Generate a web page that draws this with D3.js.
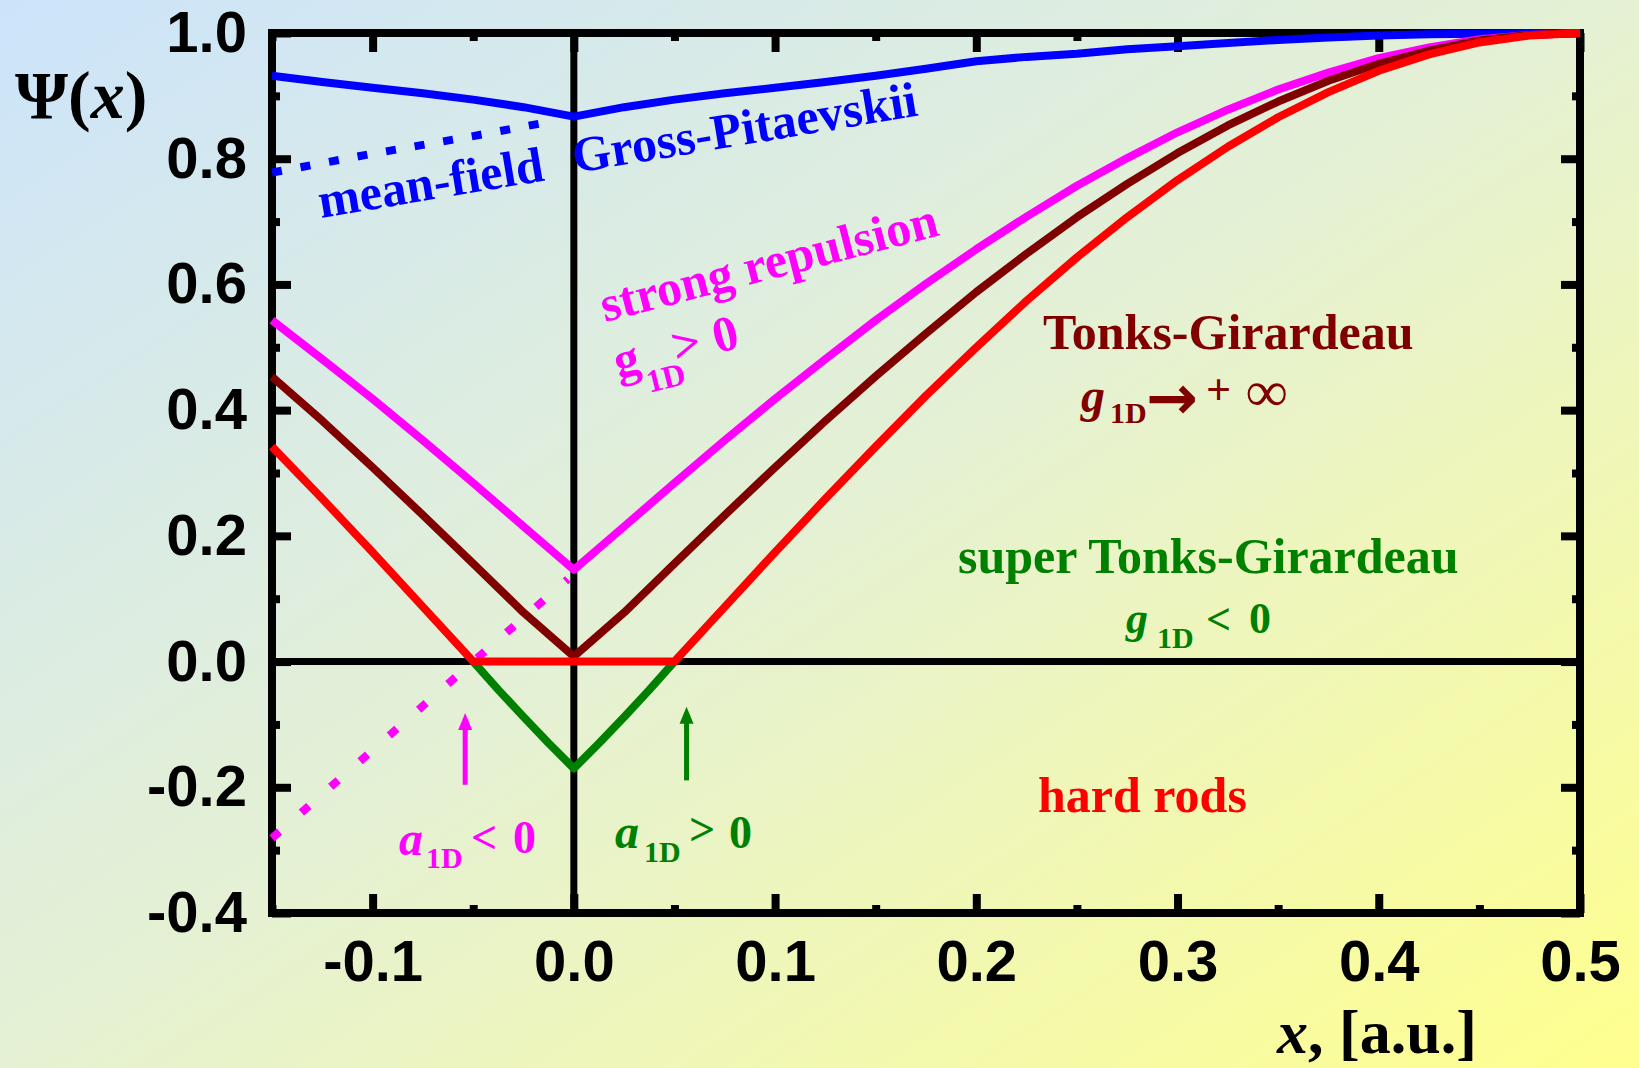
<!DOCTYPE html>
<html>
<head>
<meta charset="utf-8">
<script src="https://cdn.jsdelivr.net/npm/d3@7"></script>
<style>
  body { margin: 0; }
  svg { display: block; }
</style>
</head>
<body>
<svg id="chart"></svg>
<script>
let width = 1639;
let height = 1068;

// x grid shared by the smooth curves
let xs = [-0.15, -0.125, -0.1, -0.075, -0.05, -0.025, 0, 0.025, 0.05, 0.075, 0.1, 0.125, 0.15,
  0.175, 0.2, 0.225, 0.25, 0.275, 0.3, 0.325, 0.35, 0.375, 0.4, 0.425, 0.45, 0.475, 0.5];

let grossPitaevskii = [0.932, 0.922, 0.913, 0.904, 0.894, 0.882, 0.867, 0.882, 0.894, 0.904, 0.913, 0.922, 0.932,
  0.943, 0.955, 0.962, 0.967, 0.974, 0.979, 0.984, 0.989, 0.993, 0.996, 0.998, 0.999, 1.0, 1.0];

let strongRepulsion = [0.543, 0.481, 0.418, 0.352, 0.284, 0.215, 0.146, 0.215, 0.284, 0.352, 0.418, 0.481, 0.543,
  0.601, 0.656, 0.708, 0.757, 0.801, 0.842, 0.878, 0.910, 0.937, 0.960, 0.977, 0.990, 0.997, 1.0];

let tonksGirardeau = [0.453, 0.383, 0.309, 0.233, 0.156, 0.078, 0.008, 0.078, 0.156, 0.233, 0.309, 0.383, 0.454,
  0.522, 0.588, 0.649, 0.707, 0.760, 0.809, 0.853, 0.891, 0.924, 0.951, 0.972, 0.988, 0.997, 1.0];

let hardRodX = [-0.15, -0.125, -0.1, -0.075, -0.05, 0.05, 0.075, 0.1, 0.125, 0.15, 0.175, 0.2, 0.225,
  0.25, 0.275, 0.3, 0.325, 0.35, 0.375, 0.4, 0.425, 0.45, 0.475, 0.5];
let hardRods = [0.342, 0.259, 0.174, 0.087, 0, 0, 0.087, 0.174, 0.259, 0.342, 0.423, 0.5, 0.574,
  0.643, 0.707, 0.766, 0.819, 0.866, 0.906, 0.940, 0.966, 0.985, 0.996, 1.0];

let superX = [-0.05, -0.0375, -0.025, -0.0125, 0, 0.0125, 0.025, 0.0375, 0.05];
let superTonks = [0, -0.045, -0.088, -0.13, -0.17, -0.13, -0.088, -0.045, 0];

let meanFieldX = [-0.15, -0.125, -0.1, -0.075, -0.05, -0.03, -0.015];
let meanField = [0.778, 0.793, 0.808, 0.822, 0.836, 0.848, 0.857];

let attractionX = [-0.15, -0.1, -0.05, -0.003];
let attraction = [-0.281, -0.141, 0.0, 0.131];

let xTicks = [-0.1, 0, 0.1, 0.2, 0.3, 0.4, 0.5];
let xTickLabels = ['-0.1', '0.0', '0.1', '0.2', '0.3', '0.4', '0.5'];
let xMinor = [-0.15, -0.05, 0.05, 0.15, 0.25, 0.35, 0.45];
let yTicks = [-0.4, -0.2, 0, 0.2, 0.4, 0.6, 0.8, 1.0];
let yTickLabels = ['-0.4', '-0.2', '0.0', '0.2', '0.4', '0.6', '0.8', '1.0'];
let yMinor = [-0.3, -0.1, 0.1, 0.3, 0.5, 0.7, 0.9];

let plot = { left: 272, right: 1580, top: 33, bottom: 913 };

let x = d3.scaleLinear().domain([-0.15, 0.5]).range([plot.left, plot.right]);
let y = d3.scaleLinear().domain([-0.4, 1.0]).range([plot.bottom, plot.top]);

let svg = d3.select('#chart')
  .attr('width', width)
  .attr('height', height)
  .attr('viewBox', [0, 0, width, height]);

// background gradient, blue top-left to yellow bottom-right
let grad = svg.append('defs').append('linearGradient')
  .attr('id', 'bg')
  .attr('x1', 0).attr('y1', 0).attr('x2', 1).attr('y2', 1);
grad.append('stop').attr('offset', 0).attr('stop-color', '#cce4fb');
grad.append('stop').attr('offset', 0.5).attr('stop-color', '#e5f1d3');
grad.append('stop').attr('offset', 1).attr('stop-color', '#ffff8e');

svg.append('rect')
  .attr('width', width).attr('height', height)
  .attr('fill', 'url(#bg)');

// axes: ticks point inward on all four sides
function styleAxis(g) {
  g.select('.domain').remove();
  g.selectAll('.tick line').attr('stroke', '#000').attr('stroke-width', 8);
  g.selectAll('.tick text')
    .attr('fill', '#000')
    .style('font-family', '"Liberation Sans", Arial, sans-serif')
    .style('font-weight', 'bold')
    .style('font-size', '58px');
}

svg.append('g')
  .attr('transform', `translate(0,${plot.bottom})`)
  .call(d3.axisBottom(x).tickValues(xTicks).tickSize(-19).tickPadding(27)
    .tickFormat((d, i) => xTickLabels[i]))
  .call(styleAxis);
svg.append('g')
  .attr('transform', `translate(0,${plot.bottom})`)
  .call(d3.axisBottom(x).tickValues(xMinor).tickSize(-8).tickFormat(''))
  .call(styleAxis);
svg.append('g')
  .attr('transform', `translate(0,${plot.top})`)
  .call(d3.axisTop(x).tickValues(xTicks).tickSize(-19).tickFormat(''))
  .call(styleAxis);
svg.append('g')
  .attr('transform', `translate(0,${plot.top})`)
  .call(d3.axisTop(x).tickValues(xMinor).tickSize(-8).tickFormat(''))
  .call(styleAxis);
svg.append('g')
  .attr('transform', `translate(${plot.left},0)`)
  .call(d3.axisLeft(y).tickValues(yTicks).tickSize(-19).tickPadding(25)
    .tickFormat((d, i) => yTickLabels[i]))
  .call(styleAxis);
svg.append('g')
  .attr('transform', `translate(${plot.left},0)`)
  .call(d3.axisLeft(y).tickValues(yMinor).tickSize(-8).tickFormat(''))
  .call(styleAxis);
svg.append('g')
  .attr('transform', `translate(${plot.right},0)`)
  .call(d3.axisRight(y).tickValues(yTicks).tickSize(-19).tickFormat(''))
  .call(styleAxis);
svg.append('g')
  .attr('transform', `translate(${plot.right},0)`)
  .call(d3.axisRight(y).tickValues(yMinor).tickSize(-8).tickFormat(''))
  .call(styleAxis);

svg.append('rect')
  .attr('x', plot.left).attr('y', plot.top)
  .attr('width', plot.right - plot.left).attr('height', plot.bottom - plot.top)
  .attr('fill', 'none').attr('stroke', '#000').attr('stroke-width', 8);

// zero lines
svg.append('line')
  .attr('x1', plot.left).attr('x2', plot.right)
  .attr('y1', y(0)).attr('y2', y(0))
  .attr('stroke', '#000').attr('stroke-width', 7);
svg.append('line')
  .attr('x1', x(0)).attr('x2', x(0))
  .attr('y1', plot.top).attr('y2', plot.bottom)
  .attr('stroke', '#000').attr('stroke-width', 7);

// curves
let line = d3.line().x(d => x(d[0])).y(d => y(d[1]));

function curve(xv, yv, color, dash) {
  svg.append('path')
    .datum(xv.map((d, i) => [d, yv[i]]))
    .attr('d', line)
    .attr('fill', 'none')
    .attr('stroke', color)
    .attr('stroke-width', 8)
    .attr('stroke-linejoin', 'round')
    .attr('stroke-dasharray', dash || null);
}

curve(meanFieldX, meanField, '#0000ff', '10,19');
curve(attractionX, attraction, '#ff00ff', '10,29');
curve(xs, grossPitaevskii, '#0000ff');
curve(xs, strongRepulsion, '#ff00ff');
curve(xs, tonksGirardeau, '#800000');
curve(superX, superTonks, '#008000');
curve(hardRodX, hardRods, '#ff0000');

// arrows marking the scattering length
function arrow(xv, from, to, color) {
  let px = x(xv), y0 = y(from), y1 = y(to);
  svg.append('line')
    .attr('x1', px).attr('x2', px)
    .attr('y1', y0).attr('y2', y1 + 12)
    .attr('stroke', color).attr('stroke-width', 5);
  svg.append('path')
    .attr('d', `M${px},${y1} L${px - 7},${y1 + 17} L${px + 7},${y1 + 17} Z`)
    .attr('fill', color);
}
arrow(-0.054, -0.196, -0.082, '#ff00ff');
arrow(0.056, -0.189, -0.072, '#008000');

// text labels
let serif = '"Liberation Serif", "Times New Roman", serif';

function note(tx, ty, angle, color, pieces) {
  let g = svg.append('g')
    .attr('transform', `translate(${tx},${ty}) rotate(${angle})`)
    .attr('fill', color)
    .style('font-family', serif)
    .style('font-weight', 'bold');
  pieces.forEach(p => {
    let t = g.append('text')
      .attr('x', p[1]).attr('y', p[2])
      .style('font-size', p[3] + 'px')
      .style('font-style', p[4] ? 'italic' : 'normal')
      .text(p[0]);
    if (p[5]) t.style('font-family', p[5]);
  });
}

note(321, 218, -9.5, '#0000ff', [['mean-field', 0, 0, 50]]);
note(575, 173, -9.5, '#0000ff', [['Gross-Pitaevskii', 0, 0, 50]]);
note(605, 322, -14.5, '#ff00ff', [['strong repulsion', 0, 0, 50]]);
note(618, 378, -14, '#ff00ff', [
  ['g', 0, 0, 50], ['1D', 27, 22, 32], ['>', 60, 0, 50], ['0', 102, 0, 50]
]);
note(0, 0, 0, '#800000', [
  ['Tonks-Girardeau', 1043, 349, 50],
  ['g', 1081, 412, 48, true], ['1D', 1110, 423, 30],
  ['\u2192', 1146, 419, 62, false, '"DejaVu Sans", sans-serif'],
  ['+', 1206, 404, 44], ['\u221e', 1246, 411, 58]
]);
note(0, 0, 0, '#008000', [
  ['super Tonks-Girardeau', 958, 573, 50],
  ['g', 1126, 633, 44, true], ['1D', 1157, 648, 30], ['<', 1206, 634, 44], ['0', 1249, 633, 44]
]);
note(0, 0, 0, '#ff0000', [['hard rods', 1038, 812, 50]]);
note(0, 0, 0, '#ff00ff', [
  ['a', 399, 855, 48, true], ['1D', 426, 868, 30], ['<', 471, 853, 46], ['0', 513, 853, 46]
]);
note(0, 0, 0, '#008000', [
  ['a', 615, 848, 48, true], ['1D', 644, 862, 30], ['>', 689, 845, 46], ['0', 729, 848, 46]
]);

// axis titles
let psi = svg.append('text')
  .attr('x', 15).attr('y', 118)
  .style('font-family', serif)
  .style('font-weight', 'bold')
  .style('font-size', '68px')
  .attr('fill', '#000');
psi.append('tspan').text('\u03a8(');
psi.append('tspan').style('font-style', 'italic').text('x');
psi.append('tspan').text(')');

let xTitle = svg.append('text')
  .attr('x', 1277).attr('y', 1053)
  .style('font-family', serif)
  .style('font-weight', 'bold')
  .style('font-size', '62px')
  .attr('fill', '#000');
xTitle.append('tspan').style('font-style', 'italic').text('x');
xTitle.append('tspan').text(', [a.u.]');
</script>
</body>
</html>
